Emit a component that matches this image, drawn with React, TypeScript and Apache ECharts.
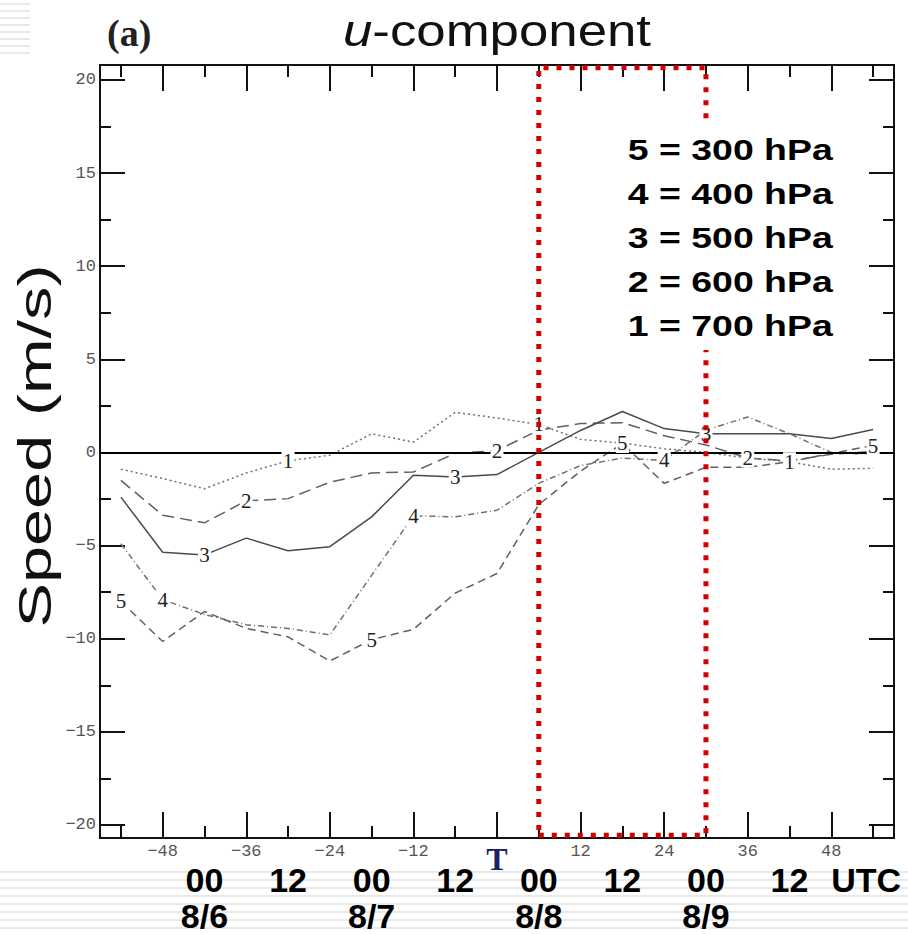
import React, { useEffect, useRef } from "react";
import * as echarts from "echarts";

// ---- data (u-component speed, m/s) ----
const hours = [-54, -48, -42, -36, -30, -24, -18, -12, -6, 0, 6, 12, 18, 24, 30, 36, 42, 48, 54];
const u700 = [-0.9, -1.4, -1.95, -1.1, -0.45, -0.15, 1.0, 0.55, 2.15, 1.85, 1.5, 0.7, 0.5, 0.2, 0.0, -0.3, -0.5, -0.9, -0.85];
const u600 = [-1.5, -3.37, -3.78, -2.6, -2.48, -1.6, -1.1, -1.05, -0.05, 0.1, 1.2, 1.55, 1.6, 0.9, 0.4, -0.3, -0.45, -0.1, 0.05];
const u500 = [-2.4, -5.36, -5.5, -4.6, -5.28, -5.06, -3.46, -1.23, -1.32, -1.19, 0.0, 1.18, 2.2, 1.28, 1.0, 1.0, 1.0, 0.75, 1.23];
const u400 = [-4.9, -7.9, -8.7, -9.25, -9.45, -9.8, -6.6, -3.4, -3.46, -3.1, -1.66, -0.7, -0.3, -0.43, 1.2, 1.9, 1.0, 0.0, -0.1];
const u300 = [-8.0, -10.15, -8.54, -9.45, -9.9, -11.2, -10.05, -9.5, -7.55, -6.5, -2.8, -1.0, 0.48, -1.66, -0.8, -0.8, -0.5, -0.05, 0.37];

const seriesKeys = ["1", "2", "3", "4", "5"];
const levels = ["700 hPa", "600 hPa", "500 hPa", "400 hPa", "300 hPa"];
const seriesValues = [u700, u600, u500, u400, u300];
const labelIdx = [[4, 10, 16], [3, 9, 15], [2, 8, 14], [1, 7, 13], [0, 6, 12, 18]];

const xMajorTicks = [-48, -36, -24, -12, 0, 12, 24, 36, 48];
const xMinorTicks = [-54, -42, -30, -18, -6, 6, 18, 30, 42, 54];
const yMajorTicks = [-20, -15, -10, -5, 0, 5, 10, 15, 20];
const yMinorTicks = [-17.5, -12.5, -7.5, -2.5, 2.5, 7.5, 12.5, 17.5];
const timeTicks = [-42, -30, -18, -6, 6, 18, 30, 42, 53];
const timeLabels = ["00\n8/6", "12", "00\n8/7", "12", "00\n8/8", "12", "00\n8/9", "12", "UTC"];
const boxHours = [6, 30];
const xRange = [-57, 57];
const yRange = [-20.7, 20.8];

const dashStyles: any[] = [[2, 3], [12, 6], "solid", [6, 3, 1, 3], [8, 5]];
const lineColors = ["#707070", "#606060", "#4a4a4a", "#707070", "#606060"];

const minus = (v: number) => (v < 0 ? "\u2212" + Math.abs(v) : String(v));

export default function App() {
  const ref = useRef<HTMLDivElement>(null);
  useEffect(() => {
    const chart = echarts.init(ref.current!, null, { renderer: "svg" });
    const axisLine = { show: true, onZero: false, lineStyle: { color: "#111", width: 2 } };
    const numFont = { fontFamily: "'Liberation Mono', monospace", fontSize: 17, color: "#555" };

    const xAxisBase = { type: "value", min: xRange[0], max: xRange[1], splitLine: { show: false } };
    const yAxisBase = { type: "value", min: yRange[0], max: yRange[1], splitLine: { show: false } };
    const tickStyle = { color: "#111", width: 2 };

    const series: any[] = seriesValues.map((vals, i) => ({
      type: "line",
      name: levels[i],
      data: hours.map((h, j) => [h, vals[j]]),
      symbol: "none",
      lineStyle: { color: lineColors[i], width: 1.5, type: dashStyles[i] },
      z: 3,
      markPoint: {
        symbol: "rect",
        symbolSize: [13, 19],
        itemStyle: { color: "#fff" },
        z: 6,
        label: {
          show: true,
          position: "inside",
          formatter: seriesKeys[i],
          color: "#222",
          fontFamily: "'Liberation Serif', serif",
          fontSize: 21,
        },
        data: labelIdx[i].map((j) => ({ coord: [hours[j], vals[j]] })),
      },
    }));
    series[0].markLine = {
      silent: true,
      symbol: ["none", "none"],
      label: { show: false },
      lineStyle: { color: "#000", width: 2, type: "solid" },
      z: 4,
      data: [{ yAxis: 0 }],
    };
    series[0].markArea = {
      silent: true,
      z: 10,
      itemStyle: { color: "rgba(0,0,0,0)", borderColor: "#d40000", borderWidth: 5, borderType: [5, 8] },
      data: [[{ xAxis: boxHours[0], yAxis: yRange[0] + 0.15 }, { xAxis: boxHours[1], yAxis: yRange[1] - 0.15 }]],
    };

    const legendText = seriesKeys
      .map((k, i) => `${k} = ${levels[i]}`)
      .reverse()
      .join("\n");

    const stripes: any[] = [];
    for (let y = 872; y < 934; y += 8) {
      stripes.push({ type: "line", silent: true, z: -1, shape: { x1: 0, y1: y, x2: 908, y2: y }, style: { stroke: "#e2e2e2", lineWidth: 1.5 } });
    }
    for (let y = 4; y < 60; y += 7) {
      stripes.push({ type: "line", silent: true, z: -1, shape: { x1: 0, y1: y, x2: 30, y2: y }, style: { stroke: "#e2e2e2", lineWidth: 1.5 } });
    }

    const option: any = {
      animation: false,
      backgroundColor: "#fff",
      grid: { left: 100, right: 14, top: 65, bottom: 93, containLabel: false },
      xAxis: [
        {
          ...xAxisBase,
          position: "bottom",
          axisLine,
          axisTick: { show: true, inside: true, length: 26, customValues: xMajorTicks, lineStyle: tickStyle },
          axisLabel: {
            show: true,
            customValues: xMajorTicks,
            margin: 5,
            ...numFont,
            formatter: (v: number) => (v === 0 ? "{t|T}" : minus(v)),
            rich: { t: { fontFamily: "'Liberation Serif', serif", fontSize: 32, color: "#1a2366", fontWeight: "bold" } },
          },
        },
        {
          ...xAxisBase,
          position: "bottom",
          axisLine,
          axisTick: { show: true, inside: true, length: 12, customValues: xMinorTicks, lineStyle: tickStyle },
          axisLabel: { show: false },
        },
        {
          ...xAxisBase,
          position: "top",
          axisLine,
          axisTick: { show: true, inside: true, length: 26, customValues: xMajorTicks, lineStyle: tickStyle },
          axisLabel: { show: false },
        },
        {
          ...xAxisBase,
          position: "top",
          axisLine,
          axisTick: { show: true, inside: true, length: 12, customValues: xMinorTicks, lineStyle: tickStyle },
          axisLabel: { show: false },
        },
        {
          ...xAxisBase,
          position: "bottom",
          axisLine: { show: false, onZero: false },
          axisTick: { show: false },
          axisLabel: {
            show: true,
            customValues: timeTicks,
            formatter: (v: number) => timeLabels[timeTicks.indexOf(v)] ?? "",
            margin: 24,
            verticalAlign: "top",
            fontFamily: "'Liberation Sans Narrow', 'Liberation Sans', Arial, sans-serif",
            fontWeight: "bold",
            fontSize: 34,
            lineHeight: 36,
            color: "#000",
          },
        },
      ],
      yAxis: [
        {
          ...yAxisBase,
          position: "left",
          axisLine,
          axisTick: { show: true, inside: true, length: 25, customValues: yMajorTicks, lineStyle: tickStyle },
          axisLabel: { show: true, customValues: yMajorTicks, margin: 4, ...numFont, formatter: (v: number) => minus(v) },
        },
        {
          ...yAxisBase,
          position: "left",
          axisLine,
          axisTick: { show: true, inside: true, length: 11, customValues: yMinorTicks, lineStyle: tickStyle },
          axisLabel: { show: false },
        },
        {
          ...yAxisBase,
          position: "right",
          axisLine,
          axisTick: { show: true, inside: true, length: 25, customValues: yMajorTicks, lineStyle: tickStyle },
          axisLabel: { show: false },
        },
        {
          ...yAxisBase,
          position: "right",
          axisLine,
          axisTick: { show: true, inside: true, length: 11, customValues: yMinorTicks, lineStyle: tickStyle },
          axisLabel: { show: false },
        },
      ],
      series,
      graphic: [
        ...stripes,
        {
          type: "text",
          x: 497,
          y: 31,
          z: 20,
          scaleX: 1.2,
          style: {
            text: "{i|u}-component",
            fill: "#111",
            textAlign: "center",
            textVerticalAlign: "middle",
            font: "44px 'Liberation Sans', Arial, sans-serif",
            rich: { i: { fontStyle: "italic", fontSize: 44, fontFamily: "'Liberation Sans', Arial, sans-serif" } },
          },
        },
        {
          type: "text",
          x: 107,
          y: 33,
          z: 20,
          style: {
            text: "(a)",
            fill: "#222",
            textVerticalAlign: "middle",
            font: "bold 38px 'Liberation Serif', serif",
          },
        },
        {
          type: "text",
          x: 35,
          y: 446,
          rotation: Math.PI / 2,
          scaleX: 1.45,
          z: 20,
          style: {
            text: "Speed (m/s)",
            fill: "#111",
            textAlign: "center",
            textVerticalAlign: "middle",
            font: "46px 'Liberation Sans', Arial, sans-serif",
          },
        },
        {
          type: "text",
          x: 624,
          y: 126,
          z: 30,
          scaleX: 1.29,
          style: {
            text: legendText,
            fill: "#000",
            font: "bold 29px 'Liberation Sans', Arial, sans-serif",
            lineHeight: 44,
            backgroundColor: "#fff",
            padding: [2, 3, 2, 3],
          },
        },
      ],
    };
    chart.setOption(option);
    return () => chart.dispose();
  }, []);
  return <div ref={ref} style={{ position: "fixed", left: 0, top: 0, width: 908, height: 934, background: "#fff" }} />;
}
